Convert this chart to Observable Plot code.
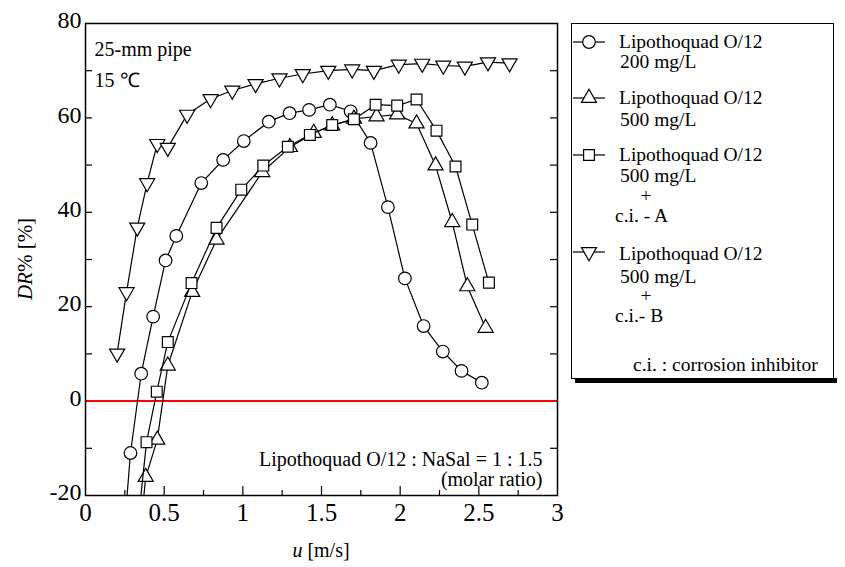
<!DOCTYPE html>
<html><head><meta charset="utf-8">
<script src="https://cdn.jsdelivr.net/npm/d3@7"></script>
<script src="https://cdn.jsdelivr.net/npm/@observablehq/plot@0.6"></script>
<style>body{margin:0;background:#fff;} svg{display:block;}</style>
</head><body><div id="chart"></div>
<script>
// ---- data (first points at DR=-30 are off-frame estimates of where the lines leave the frame)
const u200  = [0.24, 0.286, 0.354, 0.430, 0.509, 0.577, 0.736, 0.875, 1.006, 1.165, 1.297, 1.421, 1.553, 1.685, 1.812, 1.922, 2.030, 2.149, 2.271, 2.390, 2.519];
const dr200 = [-30, -11.0, 5.8, 17.9, 29.8, 35.0, 46.2, 51.1, 55.1, 59.2, 61.0, 61.7, 62.8, 61.4, 54.7, 41.1, 26.0, 15.9, 10.5, 6.4, 3.9];
const u500  = [0.34, 0.383, 0.456, 0.523, 0.678, 0.833, 1.123, 1.299, 1.451, 1.568, 1.706, 1.850, 1.981, 2.104, 2.225, 2.331, 2.427, 2.543];
const dr500 = [-30, -16.1, -8.2, 7.5, 23.1, 34.2, 48.5, 53.8, 56.8, 58.4, 59.8, 60.3, 60.7, 58.8, 49.9, 37.9, 24.3, 15.5];
const uA    = [0.32, 0.388, 0.453, 0.523, 0.674, 0.833, 0.990, 1.130, 1.286, 1.426, 1.568, 1.706, 1.844, 1.981, 2.104, 2.231, 2.352, 2.458, 2.564];
const drA   = [-30, -8.7, 2.0, 12.5, 25.0, 36.7, 44.8, 49.9, 53.9, 56.4, 58.5, 59.7, 62.8, 62.6, 63.9, 57.3, 49.7, 37.4, 25.1];
const uB    = [0.201, 0.261, 0.329, 0.392, 0.456, 0.523, 0.646, 0.795, 0.933, 1.081, 1.233, 1.381, 1.543, 1.695, 1.833, 1.991, 2.140, 2.274, 2.411, 2.558, 2.695];
const drB   = [10.1, 23.1, 36.8, 46.2, 54.5, 53.7, 60.7, 64.0, 65.8, 67.2, 68.4, 69.3, 70.0, 70.3, 70.0, 71.3, 71.5, 71.1, 70.9, 71.8, 71.6];

const xMajorTicks = [0.5, 1, 1.5, 2, 2.5];
const xLabelTicks = [0, 0.5, 1, 1.5, 2, 2.5, 3];
const xTickLabels = ["0", "0.5", "1", "1.5", "2", "2.5", "3"];
const xMinorTicks = [0.25, 0.75, 1.25, 1.75, 2.25, 2.75];
const yMajorTicks = [-20, 0, 20, 40, 60, 80];
const yTickLabels = ["-20", "0", "20", "40", "60", "80"];
const yAllTicks   = [-10, 10, 20, 30, 40, 50, 60, 70];

const legendLines = [
  ["Lipothoquad O/12", "200 mg/L"],
  ["Lipothoquad O/12", "500 mg/L"],
  ["Lipothoquad O/12", "500 mg/L", "+", "c.i. - A"],
  ["Lipothoquad O/12", "500 mg/L", "+", "c.i.- B"]
];
const legendNote = "c.i. : corrosion inhibitor";
const noteText = "Lipothoquad O/12 : NaSal = 1 : 1.5\n(molar ratio)";
const pipeText = "25-mm pipe";
const tempText = "15 \u2103";

// ---- symbols
const triangleDown = {
  draw(context, size) {
    const y = Math.sqrt(size / (Math.sqrt(3) * 3));
    context.moveTo(0, 2 * y);
    context.lineTo(Math.sqrt(3) * y, -y);
    context.lineTo(-Math.sqrt(3) * y, -y);
    context.closePath();
  }
};
const series = [
  {u: u200, dr: dr200, symbol: "circle", d3sym: d3.symbolCircle, r: 6.3},
  {u: u500, dr: dr500, symbol: "triangle", d3sym: d3.symbolTriangle, r: 5.6},
  {u: uA, dr: drA, symbol: "square", d3sym: d3.symbolSquare, r: 6.1},
  {u: uB, dr: drB, symbol: triangleDown, d3sym: triangleDown, r: 5.6}
];

const W = 845, H = 567, ML = 85, MR = 288, MT = 23, MB = 72;
const xDomain = [0, 3], yDomain = [-20, 80];
const pxPerX = (W - ML - MR) / (xDomain[1] - xDomain[0]);
const pxPerY = (H - MT - MB) / (yDomain[1] - yDomain[0]);

const marks = [];
series.forEach((s) => {
  const data = s.u.map((u, i) => ({u, dr: s.dr[i]}));
  marks.push(Plot.line(data, {x: "u", y: "dr", stroke: "black", strokeWidth: 1.2, clip: true}));
  marks.push(Plot.dot(data, {x: "u", y: "dr", symbol: s.symbol, r: s.r, fill: "white", stroke: "black", strokeWidth: 1.2, clip: true}));
});

const chart = Plot.plot({
  width: W,
  height: H,
  marginLeft: ML,
  marginRight: MR,
  marginTop: MT,
  marginBottom: MB,
  style: {fontFamily: "'Liberation Serif', 'Times New Roman', serif", background: "white", color: "black"},
  x: {domain: xDomain},
  y: {domain: yDomain},
  marks: [
    Plot.ruleY([0], {stroke: "#ff0000", strokeWidth: 2}),
    ...marks,
    // inward tick marks (length given in pixels, converted to data units)
    Plot.ruleX(xMajorTicks, {x: (d) => d, y1: yDomain[0], y2: yDomain[0] + 9 / pxPerY, stroke: "black", strokeWidth: 1.2}),
    Plot.ruleX(xMinorTicks, {x: (d) => d, y1: yDomain[0], y2: yDomain[0] + 5 / pxPerY, stroke: "black", strokeWidth: 1.2}),
    Plot.ruleY(yAllTicks, {y: (d) => d, x1: xDomain[0], x2: xDomain[0] + 7 / pxPerX, stroke: "black", strokeWidth: 1.2}),
    Plot.ruleY(yAllTicks, {y: (d) => d, x1: xDomain[1] - 7 / pxPerX, x2: xDomain[1], stroke: "black", strokeWidth: 1.2}),
    Plot.axisX(xLabelTicks, {anchor: "bottom", tickSize: 0, tickPadding: 8, fontSize: 25, tickFormat: (d) => xTickLabels[xLabelTicks.indexOf(d)], label: null}),
    Plot.axisY(yMajorTicks, {anchor: "left", tickSize: 0, tickPadding: 4, dy: -3, fontSize: 24, tickFormat: (d) => yTickLabels[yMajorTicks.indexOf(d)], label: null}),
    Plot.frame({stroke: "black", strokeWidth: 1.5}),
    Plot.text([pipeText], {text: (d) => d, frameAnchor: "top-left", textAnchor: "start", lineAnchor: "bottom", dx: 9, dy: 32, fontSize: 20}),
    Plot.text([tempText], {text: (d) => d, frameAnchor: "top-left", textAnchor: "start", lineAnchor: "bottom", dx: 9, dy: 63, fontSize: 20}),
    Plot.text([noteText], {text: (d) => d, frameAnchor: "bottom-right", textAnchor: "end", lineAnchor: "bottom", dx: -15, dy: -10, fontSize: 20, lineHeight: 1.0})
  ]
});
document.getElementById("chart").appendChild(chart);

// ---- axis titles and legend (layout drawn on the same SVG)
const svg = d3.select(chart);
const ff = "'Liberation Serif', 'Times New Roman', serif";
const xt = svg.append("text").attr("x", 321).attr("y", 557).attr("text-anchor", "middle")
  .attr("font-family", ff).attr("font-size", 20);
xt.append("tspan").attr("font-style", "italic").text("u");
xt.append("tspan").text(" [m/s]");
const yt = svg.append("text").attr("transform", "translate(32,259) rotate(-90)").attr("text-anchor", "middle")
  .attr("font-family", ff).attr("font-size", 21);
yt.append("tspan").attr("font-style", "italic").text("DR");
yt.append("tspan").text("% [%]");

const lg = svg.append("g").attr("font-family", ff).attr("font-size", 19.5).attr("text-anchor", "start");
lg.append("rect").attr("x", 575).attr("y", 378).attr("width", 262).attr("height", 5).attr("fill", "black");
lg.append("rect").attr("x", 571.5).attr("y", 23.5).attr("width", 262).attr("height", 355).attr("fill", "white").attr("stroke", "black").attr("stroke-width", 1);
const itemSymY = [42, 98, 155, 252];
const itemBase = [[48, 68], [104, 126], [161, 182, 202, 222], [260, 283, 302, 322]];
const itemX = [[619, 620], [619, 620], [619, 620, 646, 615], [619, 620, 646, 615]];
series.forEach((s, i) => {
  lg.append("line").attr("x1", 573).attr("x2", 605).attr("y1", itemSymY[i]).attr("y2", itemSymY[i]).attr("stroke", "black").attr("stroke-width", 1.2);
  lg.append("path").attr("transform", `translate(589,${itemSymY[i]})`)
    .attr("d", d3.symbol(s.d3sym, Math.PI * s.r * s.r)())
    .attr("fill", "white").attr("stroke", "black").attr("stroke-width", 1.2);
  legendLines[i].forEach((t, j) => {
    lg.append("text").attr("x", itemX[i][j]).attr("y", itemBase[i][j])
      .attr("text-anchor", t === "+" ? "middle" : "start").text(t);
  });
});
lg.append("text").attr("x", 633).attr("y", 371).attr("text-anchor", "start").text(legendNote);
</script>
</body></html>
